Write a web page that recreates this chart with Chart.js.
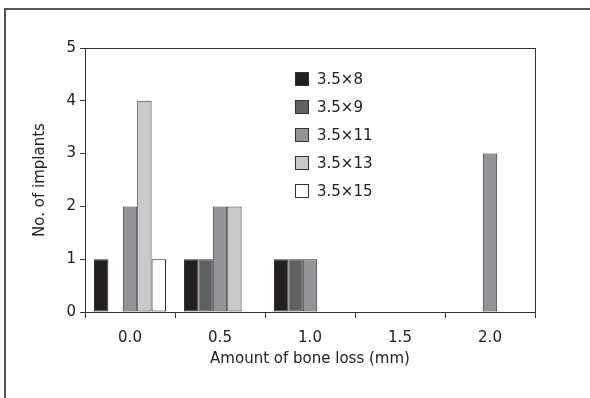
<!DOCTYPE html>
<html>
<head>
<meta charset="utf-8">
<script src="https://cdn.jsdelivr.net/npm/chart.js@4"></script>
<style>
  body { margin: 0; background: #fff; }
  #wrap { width: 590px; height: 398px; position: relative; }
</style>
</head>
<body>
<div id="wrap"><canvas id="boneChart"></canvas></div>
<script>
const categories = ['0.0', '0.5', '1.0', '1.5', '2.0'];
const seriesNames = ['3.5\u00d78', '3.5\u00d79', '3.5\u00d711', '3.5\u00d713', '3.5\u00d715'];
const size8 = [1, 1, 1, 0, 0];
const size9 = [0, 1, 1, 0, 0];
const size11 = [2, 2, 1, 0, 3];
const size13 = [4, 2, 0, 0, 0];
const size15 = [1, 0, 0, 0, 0];
const yTicks = [0, 1, 2, 3, 4, 5];

const fills = ['#231f20', '#5f6062', '#929497', '#c8c9cb', '#ffffff'];
const allValues = [size8, size9, size11, size13, size15];
const font = "'DejaVu Sans', sans-serif";
const ink = '#333';

// outer frame + plot box + legend inside the plot
const framePlugin = {
  id: 'framePlugin',
  beforeDraw: (chart) => {
    const ctx = chart.ctx;
    ctx.save();
    ctx.strokeStyle = '#555';
    ctx.lineWidth = 2;
    ctx.strokeRect(5, 9, 700, 500);
    ctx.restore();
  },
  afterDraw: (chart) => {
    const ctx = chart.ctx;
    const a = chart.chartArea;
    ctx.save();
    ctx.strokeStyle = ink;
    ctx.lineWidth = 1;
    ctx.strokeRect(Math.round(a.left) + 0.5, Math.round(a.top) + 0.5, Math.round(a.right - a.left), Math.round(a.bottom - a.top));

    ctx.font = '15px ' + font;
    ctx.textBaseline = 'middle';
    chart.data.datasets.forEach((ds, i) => {
      const y = 79 + i * 28;
      ctx.fillStyle = ds.backgroundColor;
      ctx.fillRect(295.5, y - 6.5, 13, 13);
      ctx.strokeStyle = ink;
      ctx.strokeRect(295.5, y - 6.5, 13, 13);
      ctx.fillStyle = '#222';
      ctx.fillText(ds.label, 317, y + 1);
    });
    ctx.restore();
  }
};

new Chart(document.getElementById('boneChart'), {
  type: 'bar',
  data: {
    labels: categories,
    datasets: seriesNames.map((name, i) => ({
      label: name,
      data: allValues[i],
      backgroundColor: fills[i],
      borderColor: ink,
      borderWidth: 1,
      borderSkipped: false,
      categoryPercentage: 0.8,
      barPercentage: 1.0
    }))
  },
  options: {
    responsive: true,
    maintainAspectRatio: false,
    animation: false,
    layout: { padding: { left: 0, top: 48, right: 55, bottom: 0 } },
    plugins: {
      legend: { display: false },
      tooltip: { enabled: false }
    },
    scales: {
      x: {
        grid: { display: true, drawOnChartArea: false, drawTicks: true, tickLength: 6, color: ink },
        border: { display: true, color: ink, width: 1 },
        ticks: { color: '#222', font: { family: font, size: 15 }, padding: 11, maxRotation: 0 },
        title: {
          display: true,
          text: 'Amount of bone loss (mm)',
          color: '#222',
          font: { family: font, size: 15 },
          padding: { top: 0, bottom: 30 }
        },
        afterFit: (scale) => { scale.height = 86; }
      },
      y: {
        min: 0,
        max: 5,
        afterBuildTicks: (scale) => { scale.ticks = yTicks.map(v => ({ value: v })); },
        grid: { display: true, drawOnChartArea: false, drawTicks: true, tickLength: 5, color: ink },
        border: { display: true, color: ink, width: 1 },
        ticks: { color: '#222', font: { family: font, size: 15 }, padding: 4 },
        title: {
          display: true,
          text: 'No. of implants',
          color: '#222',
          font: { family: font, size: 15 },
          padding: { top: 31, bottom: 0 }
        },
        afterFit: (scale) => { scale.width = 85; }
      }
    }
  },
  plugins: [framePlugin]
});
</script>
</body>
</html>
